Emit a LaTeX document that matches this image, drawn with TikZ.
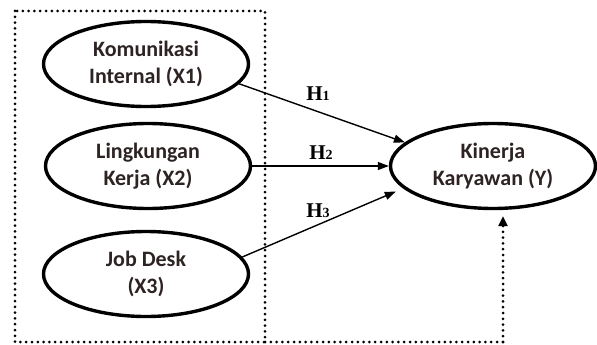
\documentclass[tikz,border=0pt]{standalone}
\usepackage{fontspec}
\setmainfont{Carlito}
\newfontfamily\hfont{Liberation Serif}
\usetikzlibrary{shapes.geometric,arrows.meta}
\definecolor{textdark}{RGB}{45,35,35}

\begin{document}
\begin{tikzpicture}[x = 1pt, y = -1pt,
  var/.style = {ellipse, draw, line width = 3.4pt, minimum width = 205pt,
    minimum height = 85pt, inner sep = 0pt, align = center, text = textdark,
    font = \fontsize{22}{27}\selectfont\bfseries},
  path/.style = {line width = 1.4pt, -{Triangle[length = 11pt, width = 8pt]}},
  hyp/.style = {font = \hfont\fontsize{21}{21}\selectfont\bfseries},
  dotline/.style = {line width = 3pt, line cap = round,
    dash pattern = on 0pt off 5.8pt}]
\useasboundingbox (0,0) rectangle (597,345);

% Dotted frame round the independent variables
\draw[dotline] (15,11) rectangle (265,342);

% Variables
\node[var] (x1) at (146,64)  {Komunikasi\\Internal (X1)};
\node[var] (x2) at (148,166) {Lingkungan\\Kerja (X2)};
\node[var] (x3) at (146,274) {Job Desk\\(X3)};
\node[var] (y)  at (493,166) {Kinerja\\Karyawan (Y)};

% Hypothesis paths
\draw[path] (x1.-12) -- (y.165);
\draw[path] (x2) -- (y);
\draw[path, shorten >= 8pt] (x3.10) -- (y.194);

% Label paths
\node[hyp] (h1) at (318,94)  {H{\fontsize{14}{14}\selectfont 1}};
\node[hyp] (h2) at (321,153) {H{\fontsize{14}{14}\selectfont 2}};
\node[hyp] (h3) at (318,211) {H{\fontsize{14}{14}\selectfont 3}};

% Joint effect
\coordinate (corner) at (503,342);
\draw[dotline] (265,342) -- (corner);
\draw[dotline, -{Triangle[length = 10pt, width = 9pt]}, shorten >= 6pt]
  (corner) -- (corner |- y.south);

\end{tikzpicture}
\end{document}
